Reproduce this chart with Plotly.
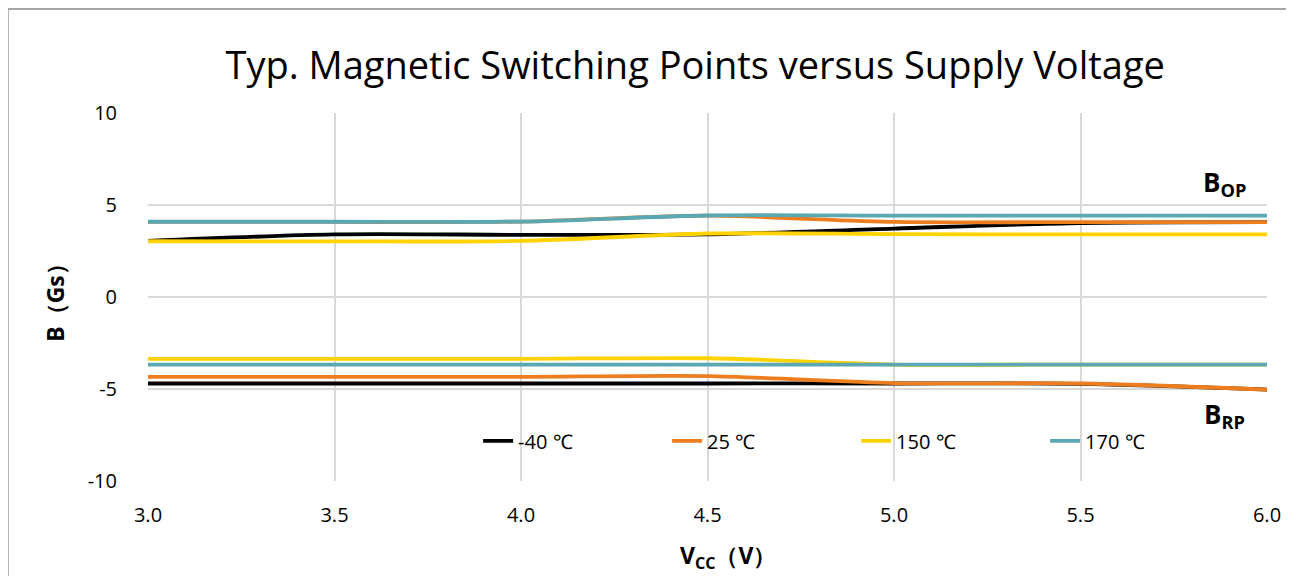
import plotly.graph_objects as go

vcc = [3.0, 3.5, 4.0, 4.5, 5.0, 5.5, 6.0]
temps = ["-40 ℃", "25 ℃", "150 ℃", "170 ℃"]
colors = ["#000000", "#ED7D1F", "#FFD200", "#5AA8B4"]

bop = {
    "-40 ℃": [3.05, 3.40, 3.38, 3.40, 3.72, 4.02, 4.07],
    "25 ℃": [4.08, 4.08, 4.10, 4.42, 4.08, 4.07, 4.07],
    "150 ℃": [3.03, 3.02, 3.05, 3.45, 3.42, 3.40, 3.40],
    "170 ℃": [4.09, 4.09, 4.10, 4.43, 4.42, 4.42, 4.42],
}
brp = {
    "-40 ℃": [-4.70, -4.70, -4.70, -4.70, -4.70, -4.72, -5.03],
    "25 ℃": [-4.34, -4.34, -4.34, -4.30, -4.68, -4.70, -5.03],
    "150 ℃": [-3.36, -3.36, -3.36, -3.33, -3.67, -3.67, -3.67],
    "170 ℃": [-3.67, -3.67, -3.67, -3.67, -3.67, -3.67, -3.67],
}

FONT = "Open Sans"

fig = go.Figure()
for t, c in zip(temps, colors):
    fig.add_trace(go.Scatter(x=vcc, y=bop[t], mode="lines", name=t, legendgroup=t,
                             line=dict(color=c, width=3.8, shape="spline", smoothing=0.8)))
    fig.add_trace(go.Scatter(x=vcc, y=brp[t], mode="lines", name=t, legendgroup=t, showlegend=False,
                             line=dict(color=c, width=3.8, shape="spline", smoothing=0.8)))

# page body has an 8px margin, so the figure is made 8px smaller and margins shifted
fig.update_layout(
    width=1286, height=568,
    margin=dict(l=140, r=27, t=105, b=95),
    paper_bgcolor="white", plot_bgcolor="white",
    font=dict(family=FONT, color="#000000", size=20),
    title=dict(text="Typ. Magnetic Switching Points versus Supply Voltage",
               xref="paper", x=0.489, xanchor="center", y=1 - 58 / 568, yanchor="middle",
               font=dict(size=38, family=FONT, color="#000000")),
    showlegend=True,
    legend=dict(orientation="h", x=0.295, xanchor="left", y=0.109, yanchor="middle",
                bgcolor="rgba(0,0,0,0)", font=dict(size=20, family=FONT),
                entrywidth=144, tracegroupgap=0),
)
fig.update_xaxes(range=[3.0, 6.0], tickmode="array", tickvals=vcc,
                 ticktext=[f"{v:.1f}" for v in vcc],
                 showgrid=True, gridcolor="#D9D9D9", gridwidth=2,
                 showline=False, zeroline=False, ticks="",
                 ticklabelstandoff=20, tickfont=dict(size=20))
fig.update_yaxes(range=[-10, 10], tickvals=[-10, -5, 0, 5, 10],
                 ticktext=["-10", "-5", "0", "5", "10"],
                 showgrid=True, gridcolor="#D9D9D9", gridwidth=2,
                 showline=False, zeroline=False, ticks="",
                 ticklabelstandoff=30, tickfont=dict(size=20),
                 title=dict(text="<b>B（Gs）</b>", font=dict(size=23), standoff=16))

fig.add_annotation(text="<b>V<sub>CC</sub>（V）</b>", xref="paper", yref="paper", x=0.518, y=-0.205,
                   xanchor="center", yanchor="middle",
                   showarrow=False, font=dict(size=23, family=FONT))
fig.add_annotation(text="<b>B<sub>OP</sub></b>", xref="paper", yref="paper", x=0.962, y=0.81,
                   xanchor="center", yanchor="middle",
                   showarrow=False, font=dict(size=26, family=FONT))
fig.add_annotation(text="<b>B<sub>RP</sub></b>", xref="paper", yref="paper", x=0.962, y=0.18,
                   xanchor="center", yanchor="middle",
                   showarrow=False, font=dict(size=26, family=FONT))

# outer chart border
fig.add_shape(type="rect", xref="paper", yref="paper", x0=-0.1255, x1=1.0206, y0=-0.4, y1=1.283,
              line=dict(color="#A6A6A6", width=2.5), fillcolor="rgba(0,0,0,0)", layer="below")

fig.write_html("out.html")
